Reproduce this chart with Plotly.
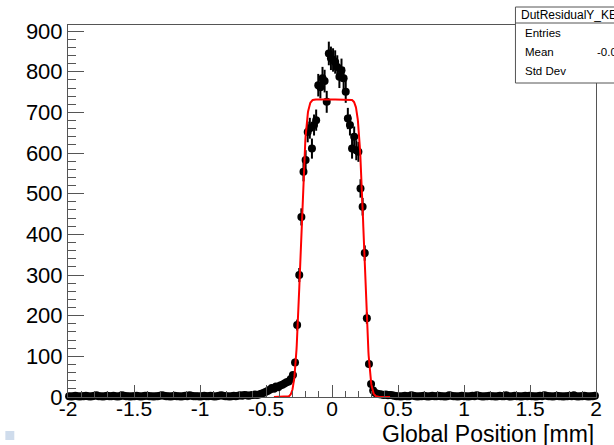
import math
import numpy as np
import plotly.graph_objects as go

# Histogram binning of the residual (250 bins over [-2, 2] mm)
x_min, x_max, n_bins = -2.0, 2.0, 250
edges = np.linspace(x_min, x_max, n_bins + 1)
centers = 0.5 * (edges[:-1] + edges[1:])

# Bin contents, left to right
counts_left = [
    2, 1, 2, 3, 2, 1, 2, 2, 3, 2,
    1, 2, 3, 4, 2, 2, 1, 2, 3, 2,
    2, 3, 2, 1, 2, 4, 3, 2, 2, 1,
    2, 2, 3, 2, 1, 2, 3, 3, 2, 2,
    1, 2, 2, 3, 4, 3, 2, 2, 1, 2,
    3, 2, 2, 1, 2, 3, 2, 4, 3, 2,
    2, 2, 1, 2, 3, 2, 2, 3, 2, 1,
    2, 3, 4, 3, 2, 2, 1, 2, 3, 2,
    3, 4, 3, 5, 4, 3, 4, 5, 6, 5,
    6, 8, 10,
]
counts_shoulder = [12, 15, 18, 22, 20, 26, 24, 28, 30, 33, 36, 38, 44]
counts_peak = [
    54, 85, 177, 300, 443, 554, 583, 652, 661, 611,
    669, 681, 767, 762, 784, 777, 726, 845, 833,
    829, 824, 812, 788, 804, 784, 751, 685, 669, 611,
    640, 607, 603, 513, 468, 354, 194, 81, 32,
]
counts_tail = [16, 10, 8, 7, 6, 5, 6, 4, 5, 4]
counts_right = [
    3, 2, 2, 1, 2, 3, 2, 2, 4, 3,
    2, 1, 2, 2, 3, 2, 1, 2, 3, 2,
    2, 3, 2, 2, 1, 2, 4, 3, 2, 2,
    1, 2, 3, 2, 2, 1, 2, 3, 2, 4,
    3, 2, 1, 2, 2, 3, 2, 2, 1, 2,
    3, 2, 2, 4, 2, 1, 2, 3, 2, 2,
    1, 2, 3, 2, 3, 2, 2, 1, 2, 3,
    2, 4, 3, 2, 2, 1, 2, 3, 2, 2,
    1, 2, 2, 3, 2, 4, 2, 1, 2, 2,
    3, 2, 1, 2, 2, 3,
]
counts = np.array(counts_left + counts_shoulder + counts_peak + counts_tail + counts_right, dtype=float)
errors = np.sqrt(counts)

# Box (plateau) convolved with a Gaussian: fitted parameters
fit_amp = 732.0
fit_lo = -0.237
fit_hi = 0.243
fit_sigma = 0.032
fit_range = (-0.44, 0.44)

fx = np.linspace(fit_range[0], fit_range[1], 500)
fy = np.array([
    0.5 * fit_amp * (math.erf((v - fit_lo) / (math.sqrt(2) * fit_sigma))
                     - math.erf((v - fit_hi) / (math.sqrt(2) * fit_sigma)))
    for v in fx
])

# Statistics box entries
entries = int(counts.sum())
mean = float((counts * centers).sum() / counts.sum())
std = float(math.sqrt((counts * (centers - mean) ** 2).sum() / counts.sum()))
stat_title = "DutResidualY_KEK"
stat_labels = ["Entries", "Mean", "Std Dev"]
stat_values = [f"{entries}", f"{mean:.4g}", f"{std:.4g}"]

x_ticks = [-2, -1.5, -1, -0.5, 0, 0.5, 1, 1.5, 2]
x_ticktext = ["-2", "-1.5", "-1", "-0.5", "0", "0.5", "1", "1.5", "2"]
y_ticks = [0, 100, 200, 300, 400, 500, 600, 700, 800, 900]

W, H = 614, 445
L, R, T, B = 68, 15, 25, 48
pw, ph = W - L - R, H - T - B


def px(xp):
    return (xp - L) / pw


def py(yp):
    return (H - B - yp) / ph


FONT = "Liberation Sans, Arial, Helvetica, sans-serif"
FRAME = "#555555"

fig = go.Figure()
fig.add_trace(go.Scatter(
    x=centers, y=counts, mode="markers",
    marker=dict(color="black", size=8),
    error_y=dict(type="data", array=errors, visible=True, thickness=2, width=0, color="black"),
    cliponaxis=False, showlegend=False,
))
fig.add_trace(go.Scatter(
    x=fx, y=fy, mode="lines",
    line=dict(color="#ff0000", width=2),
    showlegend=False,
))

fig.update_xaxes(
    range=[x_min, x_max], tickvals=x_ticks, ticktext=x_ticktext,
    ticks="inside", ticklen=12, tickwidth=1, tickcolor=FRAME,
    minor=dict(dtick=0.1, ticks="inside", ticklen=6, tickwidth=1, tickcolor=FRAME),
    showline=True, linecolor=FRAME, linewidth=1, mirror=True,
    showgrid=False, zeroline=False, ticklabelstandoff=-7,
    tickfont=dict(family=FONT, size=21, color="black"),
)
fig.update_yaxes(
    range=[0, 915], tickvals=y_ticks,
    ticks="inside", ticklen=16, tickwidth=1, tickcolor=FRAME,
    minor=dict(dtick=20, ticks="inside", ticklen=8, tickwidth=1, tickcolor=FRAME),
    showline=True, linecolor=FRAME, linewidth=1, mirror=True,
    showgrid=False, zeroline=False,
    tickfont=dict(family=FONT, size=22, color="black"),
)

shapes = []
annotations = []

# Statistics box
box_l, box_r, box_t, box_b, box_div = 518, 700, 7, 83, 23
shapes.append(dict(type="rect", xref="paper", yref="paper",
                   x0=px(box_l), x1=px(box_r), y0=py(box_b), y1=py(box_t),
                   line=dict(color=FRAME, width=1), fillcolor="white", layer="above"))
shapes.append(dict(type="line", xref="paper", yref="paper",
                   x0=px(box_l), x1=px(box_r), y0=py(box_div), y1=py(box_div),
                   line=dict(color=FRAME, width=1), layer="above"))
annotations.append(dict(xref="paper", yref="paper", x=px(522), y=py(15),
                        xanchor="left", yanchor="middle", showarrow=False,
                        text=stat_title, font=dict(family=FONT, size=12, color="black")))
for i, (lab, val) in enumerate(zip(stat_labels, stat_values)):
    yy = [33, 52, 71][i]
    annotations.append(dict(xref="paper", yref="paper", x=px(526), y=py(yy),
                            xanchor="left", yanchor="middle", showarrow=False,
                            text=lab, font=dict(family=FONT, size=11.5, color="black")))
    annotations.append(dict(xref="paper", yref="paper", x=px(654), y=py(yy),
                            xanchor="right", yanchor="middle", showarrow=False,
                            text=val, font=dict(family=FONT, size=11.5, color="black")))

# Axis title, right aligned under the axis
annotations.append(dict(xref="paper", yref="paper", x=1.0, y=py(434),
                        xanchor="right", yanchor="middle", showarrow=False,
                        text="Global Position [mm]", font=dict(family=FONT, size=23, color="black")))

# Canvas widget square
shapes.append(dict(type="rect", xref="paper", yref="paper",
                   x0=px(5), x1=px(14), y0=py(440), y1=py(431),
                   line=dict(width=0), fillcolor="#cfdcec", layer="above"))

fig.update_layout(
    width=W, height=H,
    margin=dict(l=L, r=R, t=T, b=B),
    paper_bgcolor="white", plot_bgcolor="white",
    shapes=shapes, annotations=annotations,
    showlegend=False,
)

fig.write_html("out.html")
